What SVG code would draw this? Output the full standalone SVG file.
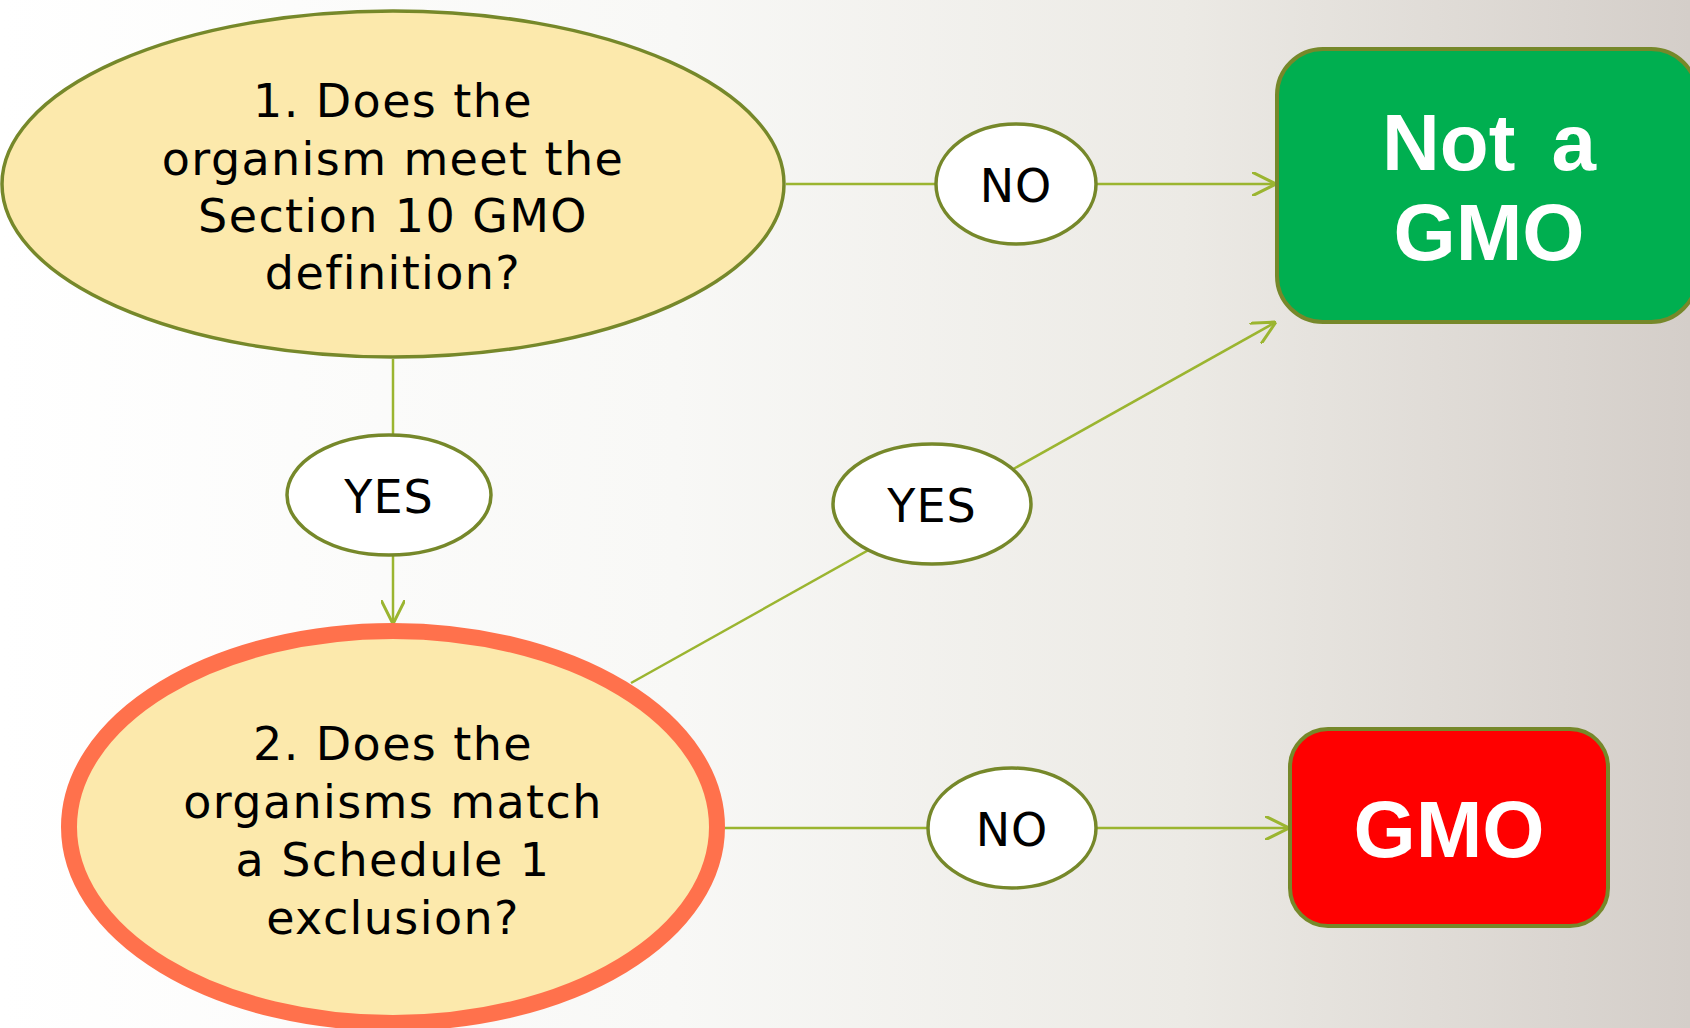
<svg xmlns="http://www.w3.org/2000/svg" width="1690" height="1028" viewBox="0 0 1690 1028">
<defs>
<linearGradient id="bg" x1="0" y1="0" x2="1" y2="0">
<stop offset="0" stop-color="#FFFFFF"/>
<stop offset="0.4" stop-color="#F8F8F6"/>
<stop offset="0.7" stop-color="#ECEAE5"/>
<stop offset="1" stop-color="#D4CEC9"/>
</linearGradient>
<marker id="arr" markerUnits="userSpaceOnUse" markerWidth="24" markerHeight="24" viewBox="0 0 20 20" refX="20" refY="10" orient="auto">
<path d="M0,0 L20,10 L0,20" fill="none" stroke="#9BB530" stroke-width="2.5"/>
</marker>
<style>
.q{fill:#FCE9AC;stroke:#76882A;stroke-width:3.5}
.q2{fill:#FCE9AC;stroke:#FF714C;stroke-width:16}
.lab{fill:#FFFFFF;stroke:#76882A;stroke-width:3.5}
.qt{font-family:"DejaVu Sans",Verdana,sans-serif;font-size:46px;fill:#000;text-anchor:middle;letter-spacing:1.4px}
.lt{font-family:"DejaVu Sans",Verdana,sans-serif;font-size:46px;fill:#000;text-anchor:middle;letter-spacing:1px}
.bt{font-family:"Liberation Sans",Arial,sans-serif;font-weight:bold;font-size:80px;fill:#FFFFFF;text-anchor:middle}
.c{fill:none;stroke:#9BB530;stroke-width:2.5}
</style>
</defs>
<rect width="1690" height="1028" fill="url(#bg)"/>
<g id="connectors">
<line class="c" x1="786" y1="184" x2="940" y2="184"/>
<line class="c" x1="1094" y1="184" x2="1276" y2="184" marker-end="url(#arr)"/>
<line class="c" x1="393" y1="359" x2="393" y2="436"/>
<line class="c" x1="393" y1="554" x2="393" y2="624" marker-end="url(#arr)"/>
<line class="c" x1="631" y1="683" x2="1276" y2="322" marker-end="url(#arr)"/>
<line class="c" x1="717" y1="828" x2="930" y2="828"/>
<line class="c" x1="1094" y1="828" x2="1289" y2="828" marker-end="url(#arr)"/>
</g>
<g id="q1">
<ellipse class="q" cx="393" cy="184" rx="391" ry="173"/>
<text class="qt" x="393" y="117">1. Does the</text>
<text class="qt" x="393" y="175">organism meet the</text>
<text class="qt" x="393" y="232">Section 10 GMO</text>
<text class="qt" x="393" y="289">definition?</text>
</g>
<g id="q2">
<ellipse class="q2" cx="393" cy="827" rx="324" ry="196"/>
<text class="qt" x="393" y="760">2. Does the</text>
<text class="qt" x="393" y="818">organisms match</text>
<text class="qt" x="393" y="876">a Schedule 1</text>
<text class="qt" x="393" y="934">exclusion?</text>
</g>
<g id="no1">
<ellipse class="lab" cx="1016" cy="184" rx="80" ry="60"/>
<text class="lt" x="1016" y="202">NO</text>
</g>
<g id="yes1">
<ellipse class="lab" cx="389" cy="495" rx="102" ry="60"/>
<text class="lt" x="389" y="513">YES</text>
</g>
<g id="yes2">
<ellipse class="lab" cx="932" cy="504" rx="99" ry="60"/>
<text class="lt" x="932" y="522">YES</text>
</g>
<g id="no2">
<ellipse class="lab" cx="1012" cy="828" rx="84" ry="60"/>
<text class="lt" x="1012" y="846">NO</text>
</g>
<g id="notgmo">
<rect x="1277" y="49" width="420" height="273" rx="46" fill="#00AF50" stroke="#76882A" stroke-width="4"/>
<text class="bt" x="1489" y="170" word-spacing="14">Not a</text>
<text class="bt" x="1489" y="260">GMO</text>
</g>
<g id="gmo">
<rect x="1290" y="729" width="318" height="197" rx="38" fill="#FF0000" stroke="#76882A" stroke-width="4"/>
<text class="bt" x="1449" y="857">GMO</text>
</g>
</svg>
